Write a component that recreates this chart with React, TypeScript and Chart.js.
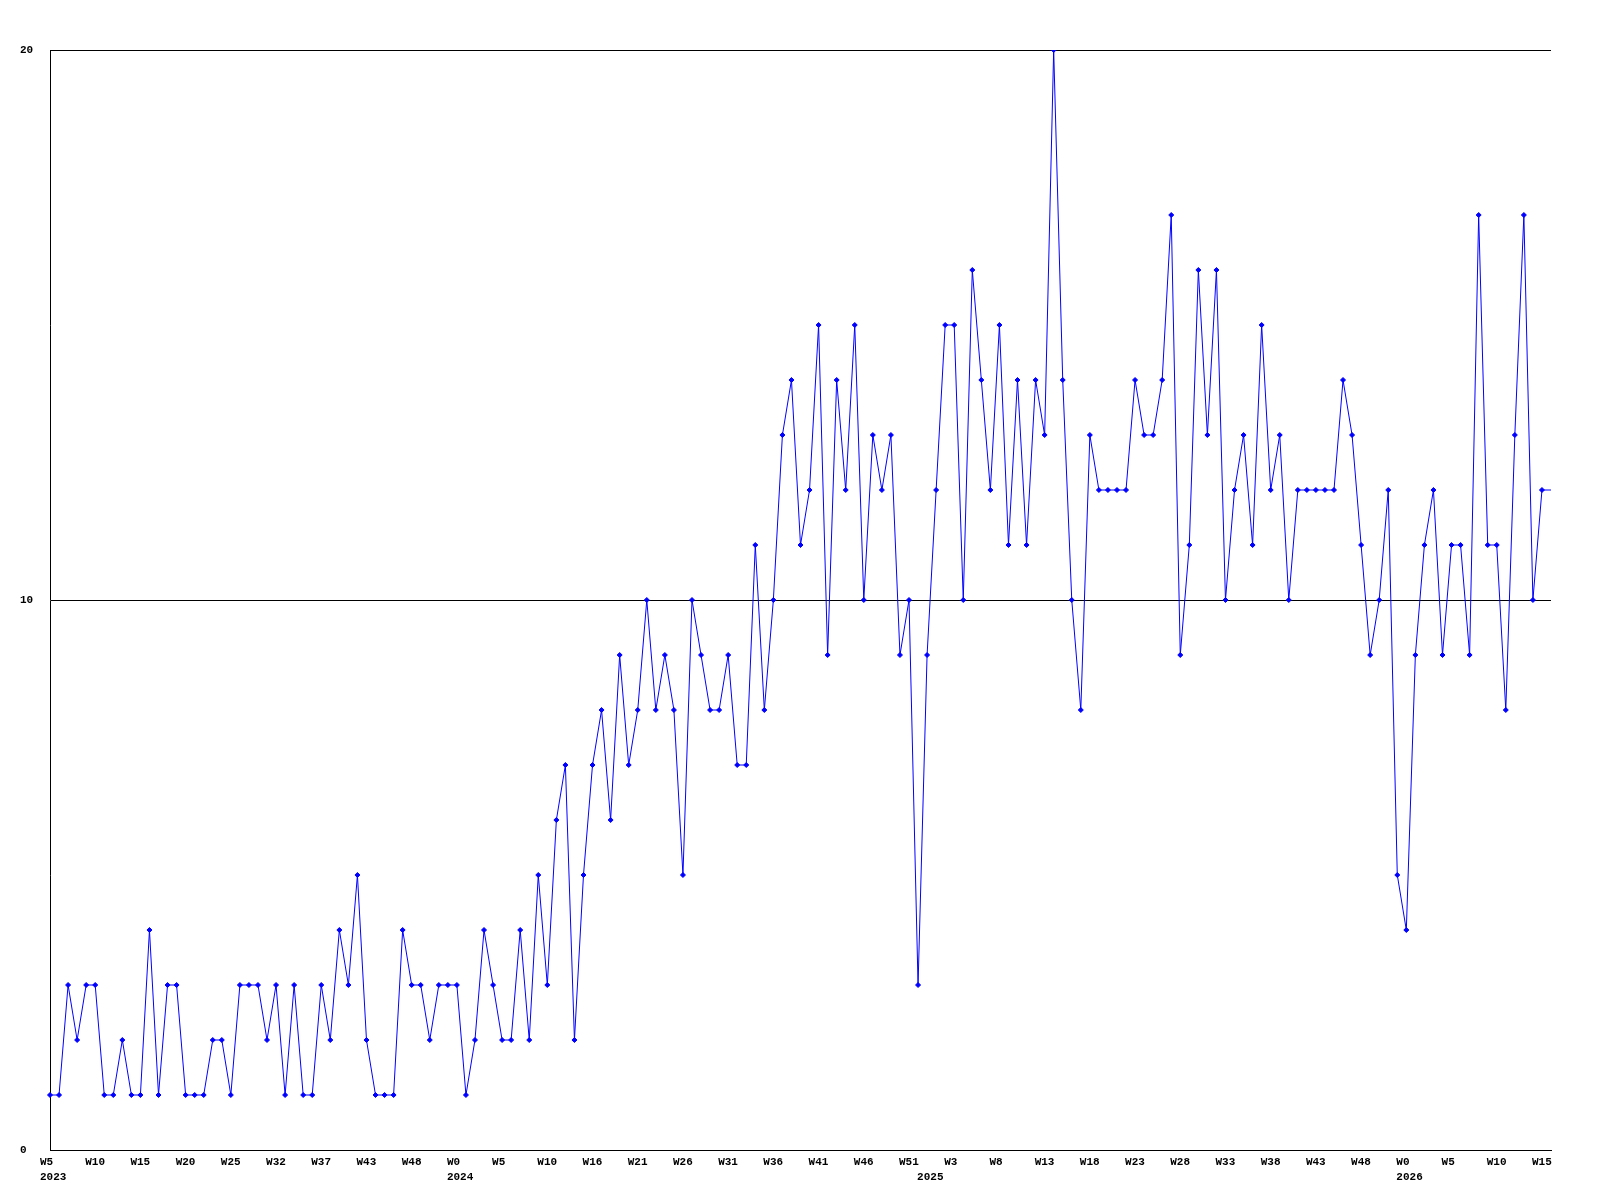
import { useEffect, useRef } from 'react';
import { Chart, registerables } from 'chart.js';

Chart.register(...registerables);

// Week numbers present in the data, per year
const weeks2023 = [5, 6, 7, 8, 9, 10, 11, 12, 13, 14, 15, 16, 17, 18, 19, 20, 21, 22, 23, 24, 25, 27, 28, 30, 31, 32, 33, 34, 35, 36, 37, 38, 39, 41, 42, 43, 44, 45, 46, 47, 48, 49, 50, 51, 52];
const weeks2024 = [0, 1, 2, 3, 4, 5, 6, 7, 8, 9, 10, 11, 12, 14, 15, 16, 17, 18, 19, 20, 21, 22, 23, 24, 25, 26, 27, 28, 29, 30, 31, 32, 33, 34, 35, 36, 37, 38, 39, 40, 41, 42, 43, 44, 45, 46, 47, 48, 49, 50, 51, 52];
const weeks2025 = [0, 1, 2, 3, 4, 5, 6, 7, 8, 9, 10, 11, 12, 13, 14, 15, 16, 17, 18, 19, 20, 21, 22, 23, 24, 25, 26, 27, 28, 29, 30, 31, 32, 33, 34, 35, 36, 37, 38, 39, 40, 41, 42, 43, 44, 45, 46, 47, 48, 49, 50, 51, 52];
const weeks2026 = [0, 1, 2, 3, 4, 5, 6, 7, 8, 9, 10, 11, 12, 13, 14, 15, 16];

const categories: { year: number; week: number }[] = [
  ...weeks2023.map((week) => ({ year: 2023, week })),
  ...weeks2024.map((week) => ({ year: 2024, week })),
  ...weeks2025.map((week) => ({ year: 2025, week })),
  ...weeks2026.map((week) => ({ year: 2026, week })),
];

const values = [
  1, 1, 3, 2, 3, 3, 1, 1, 2, 1, 1, 4, 1, 3, 3, 1, 1, 1, 2, 2, 1, 3, 3, 3, 2, 3, 1, 3, 1, 1, 3, 2,
  4, 3, 5, 2, 1, 1, 1, 4, 3, 3, 2, 3, 3, 3, 1, 2, 4, 3, 2, 2, 4, 2, 5, 3,
  6, 7, 2, 5,
  7, 8, 6, 9, 7, 8, 10, 8, 9, 8, 5, 10, 9, 8, 8, 9, 7, 7, 11, 8, 10, 13, 14, 11, 12, 15, 9, 14, 12, 15, 10, 13, 12,
  13, 9, 10, 3, 9, 12, 15, 15, 10, 16, 14, 12, 15, 11, 14, 11, 14, 13, 20, 14, 10, 8, 13, 12, 12, 12, 12, 14, 13, 13,
  14, 17, 9, 11, 16, 13, 16, 10, 12, 13, 11, 15, 12, 13, 10, 12, 12, 12, 12, 12, 14, 13, 11, 9, 10, 12, 5, 4, 9, 11, 12, 9,
  11, 11, 9, 17, 11, 11, 8, 13, 17, 10, 12, 12,
];

const yMin = 0;
const yMax = 20;
const yStep = 10;
const labelEvery = 5;

export default function App() {
  const ref = useRef<HTMLCanvasElement>(null);

  useEffect(() => {
    if (!ref.current) return;
    const font = {
      family: "'Liberation Mono', 'DejaVu Sans Mono', monospace",
      size: 11,
      weight: 'bold' as const,
      lineHeight: '15px',
    };
    const lastIndex = values.length - 1;
    const chart = new Chart(ref.current, {
      type: 'line',
      data: {
        labels: categories.map((c) => `W${c.week}`),
        datasets: [
          {
            data: values,
            borderColor: '#0000ff',
            backgroundColor: '#0000ff',
            borderWidth: 1,
            tension: 0,
            fill: false,
            pointStyle: 'rectRot',
            pointRadius: (ctx: any) => (ctx.dataIndex === lastIndex ? 0 : 2.5),
            pointBorderWidth: 1,
            pointBackgroundColor: '#0000ff',
            pointBorderColor: '#0000ff',
          },
        ],
      },
      options: {
        animation: false,
        responsive: false,
        devicePixelRatio: 1,
        events: [],
        layout: { padding: { left: 20, top: 50, right: 49, bottom: 0 } },
        plugins: { legend: { display: false }, tooltip: { enabled: false }, title: { display: false } },
        scales: {
          x: {
            type: 'category',
            offset: false,
            grid: { display: false, drawTicks: false },
            border: { display: true, color: '#000000', width: 1 },
            afterFit: (scale: any) => {
              scale.height = 50;
            },
            ticks: {
              autoSkip: false,
              maxRotation: 0,
              minRotation: 0,
              align: 'start',
              labelOffset: -10,
              padding: 5,
              color: '#000000',
              font,
              callback: (_v: any, index: number) => {
                const c = categories[index];
                const week = index % labelEvery === 0 ? `W${c.week}` : '';
                const firstOfYear = index === 0 || categories[index - 1].year !== c.year;
                if (firstOfYear) return [week, `${c.year}`];
                return week;
              },
            },
          },
          y: {
            min: yMin,
            max: yMax,
            grid: { display: true, color: '#000000', lineWidth: 1, drawTicks: false },
            border: { display: true, color: '#000000', width: 1 },
            afterFit: (scale: any) => {
              scale.width = 30;
            },
            ticks: {
              stepSize: yStep,
              crossAlign: 'far',
              padding: 0,
              color: '#000000',
              font,
            },
          },
        },
      },
    });
    return () => chart.destroy();
  }, []);

  return (
    <canvas
      ref={ref}
      width={1600}
      height={1200}
      style={{ position: 'absolute', left: 0, top: 0, width: 1600, height: 1200, background: '#ffffff' }}
    />
  );
}
